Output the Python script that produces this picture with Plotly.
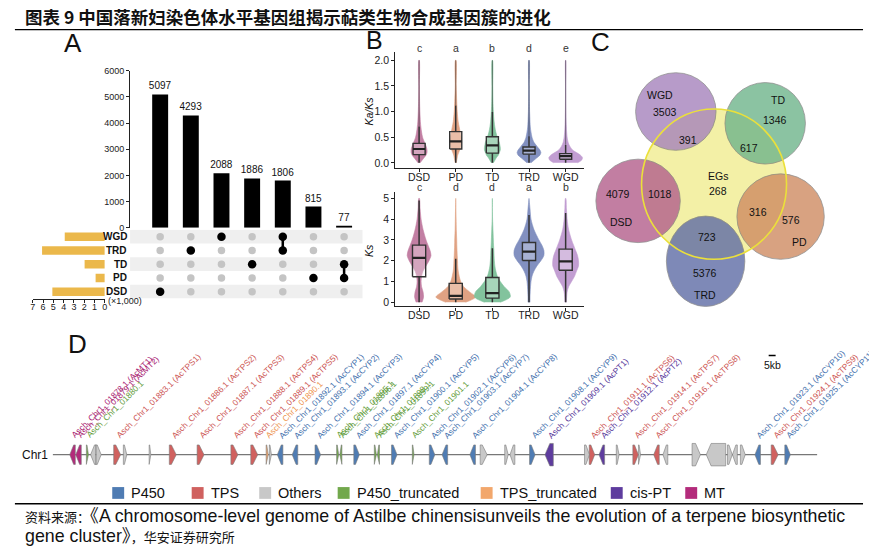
import plotly.graph_objects as go
import numpy as np

W, H = 869, 550
def fx(p): return p / W
def fy(p): return 1 - p / H

FONT = "Liberation Sans, Arial, Noto Sans CJK SC, sans-serif"
CJK = "Noto Sans CJK SC, sans-serif"

# ---------------- data ----------------
title_text = "图表 9 中国落新妇染色体水平基因组揭示萜类生物合成基因簇的进化"
source_prefix = "资料来源："
source_line1 = "《A chromosome-level genome of Astilbe chinensisunveils the evolution of a terpene biosynthetic"
source_line2a = "gene cluster》"
source_line2b = "，华安证券研究所"

# Panel A (UpSet)
upset_sets = ["WGD", "TRD", "TD", "PD", "DSD"]
upset_members = [["DSD"], ["TRD"], ["WGD"], ["TD"], ["WGD", "TRD"], ["PD"], ["TD", "PD"]]
upset_counts = [5097, 4293, 2088, 1886, 1806, 815, 77]
upset_yticks = [0, 1000, 2000, 3000, 4000, 5000, 6000]
setsize_ticks = [7, 6, 5, 4, 3, 2, 1, 0]

# Panel B
dup_types = ["DSD", "PD", "TD", "TRD", "WGD"]
dup_colors = ["#c27fa3", "#e0a283", "#82c39d", "#8290c0", "#c29ed2"]
kaks_letters = ["c", "a", "b", "d", "e"]
ks_letters = ["c", "d", "d", "a", "b"]
kaks_q1 = [0.16, 0.27, 0.19, 0.17, 0.07]
kaks_med = [0.27, 0.42, 0.34, 0.24, 0.13]
kaks_q3 = [0.38, 0.61, 0.51, 0.31, 0.18]
kaks_lo = [0.0, 0.0, 0.0, 0.0, 0.0]
kaks_hi = [0.71, 1.12, 0.99, 0.52, 0.35]
kaks_max = [2.0, 2.0, 2.0, 2.0, 2.0]
kaks_grid = [0, 0.05, 0.1, 0.15, 0.2, 0.25, 0.3, 0.35, 0.4, 0.5, 0.6, 0.7, 0.8, 1.0, 1.2, 1.5, 2.0]
kaks_density = {
    "DSD": [1, 3, 5, 7, 8, 8, 7.5, 6.5, 5.5, 3.5, 2.5, 1.8, 1.3, 0.8, 0.5, 0.3, 0.2],
    "PD":  [0.5, 1, 1.5, 2, 3, 4, 5, 5.5, 6, 5.5, 4.5, 3.5, 2.5, 1.5, 1, 0.5, 0.3],
    "TD":  [1, 2.5, 4, 6, 7, 8, 8, 7.5, 7, 5, 3.5, 2.5, 1.8, 1, 0.6, 0.4, 0.2],
    "TRD": [2, 5, 8, 11, 12, 11, 9, 7, 5, 3, 2, 1.3, 1, 0.6, 0.4, 0.3, 0.2],
    "WGD": [12, 16, 17, 15, 11, 7, 5, 3.5, 2.5, 1.5, 1, 0.7, 0.5, 0.3, 0.2, 0.15, 0.1],
}
ks_q1 = [1.23, 0.16, 0.20, 2.01, 1.54]
ks_med = [2.14, 0.31, 0.44, 2.44, 1.97]
ks_q3 = [2.75, 0.91, 1.19, 2.88, 2.56]
ks_lo = [0.0, 0.0, 0.0, 0.0, 0.0]
ks_hi = [4.9, 2.1, 2.6, 4.2, 4.3]
ks_grid = [0, 0.25, 0.5, 0.75, 1, 1.25, 1.5, 1.75, 2, 2.25, 2.5, 2.75, 3, 3.5, 4, 4.5, 5]
ks_density = {
    "DSD": [3, 4.5, 4, 2.5, 2, 2.5, 4, 7, 10, 12, 11, 9, 7, 4, 2, 1, 0.3],
    "PD":  [10, 20, 14, 8, 5, 3.5, 2.5, 2, 1.8, 1.5, 1.3, 1.1, 1, 0.6, 0.4, 0.2, 0],
    "TD":  [8, 18, 17, 12, 8, 5, 3.5, 2.5, 2, 1.7, 1.5, 1.2, 1, 0.6, 0.2, 0, 0],
    "TRD": [1, 1, 1.2, 1.5, 2, 3, 5, 8, 12, 15, 15, 13, 10, 5, 2, 1, 0],
    "WGD": [0.8, 1, 1.5, 3, 6, 9, 11, 13, 13, 12, 10, 8, 6, 3, 1.5, 0.8, 0.2],
}

# Panel C (Venn)
venn_sets = ["WGD", "TD", "PD", "TRD", "DSD"]
venn_colors = ["#a683bc", "#6fb58b", "#cf8b62", "#5f6ca6", "#b35f8c"]
venn_unique = [3503, 1346, 576, 5376, 4079]
venn_shared = [391, 617, 316, 723, 1018]
venn_core_name = "EGs"
venn_core = 268

# Panel D (gene cluster)
gene_kb = [14.3, 18.6, 25.0, 29.3, 32.9, 46.4, 52.1, 70.0, 86.4, 106.4, 130.7, 145.0, 154.3, 156.6,
           163.6, 174.3, 190.7, 205.0, 207.3, 218.6, 232.1, 234.3, 245.7, 259.3, 272.9, 282.1, 302.1,
           310.0, 326.4, 330.7, 345.0, 357.1, 384.3, 387.9, 395.0, 406.4, 419.3, 422.1, 434.3, 440.7,
           462.9, 477.1, 487.1, 490.7, 496.4, 507.1, 519.3, 528.6]
gene_len = [4, 4, 1.5, 4, 4, 5, 2.5, 1.2, 5, 5, 5, 5, 1.5, 1.5,
            4, 4, 4, 1.5, 1.5, 4, 1.5, 1.5, 4, 1.2, 4, 4, 4,
            5, 2.5, 3.5, 4, 6, 3.5, 4, 4, 2, 4, 1.5, 4, 3.5,
            6, 14, 3.5, 3.5, 3.5, 4, 5, 4]
gene_strand = [-1, -1, 1, -1, 1, 1, 1, 1, 1, 1, 1, 1, 1, 1,
               -1, -1, 1, 1, -1, 1, 1, -1, 1, 1, 1, -1, -1,
               1, 1, -1, 1, -1, 1, 1, -1, 1, 1, 1, -1, -1,
               1, -1, 1, -1, 1, -1, 1, 1]
gene_type = ["MT", "MT", "P450_truncated", "Others", "Others", "TPS", "Others", "Others", "TPS", "TPS",
             "TPS", "TPS", "TPS_truncated", "Others", "P450", "P450", "P450", "P450_truncated",
             "P450_truncated", "P450", "P450_truncated", "P450_truncated", "P450", "P450_truncated",
             "P450", "P450", "P450", "Others", "Others", "Others", "P450", "cis-PT", "Others", "TPS",
             "cis-PT", "Others", "TPS", "Others", "TPS", "Others", "Others", "Others", "Others",
             "Others", "Others", "P450", "TPS", "P450"]
gene_label = ["Asch_Chr1_01878.1 (AcMT1)", "Asch_Chr1_01879.1 (AcMT2)", "Asch_Chr1_01880.1", "", "",
              "Asch_Chr1_01883.1 (AcTPS1)", "", "", "Asch_Chr1_01886.1 (AcTPS2)",
              "Asch_Chr1_01887.1 (AcTPS3)", "Asch_Chr1_01888.1 (AcTPS4)", "Asch_Chr1_01889.1 (AcTPS5)",
              "Asch_Chr1_01890.1", "", "Asch_Chr1_01892.1 (AcCYP1)", "Asch_Chr1_01893.1 (AcCYP2)",
              "Asch_Chr1_01894.1 (AcCYP3)", "Asch_Chr1_01895.1", "Asch_Chr1_01896.1",
              "Asch_Chr1_01897.1 (AcCYP4)", "Asch_Chr1_01898.1", "Asch_Chr1_01899.1",
              "Asch_Chr1_01900.1 (AcCYP5)", "Asch_Chr1_01901.1", "Asch_Chr1_01902.1 (AcCYP6)",
              "Asch_Chr1_01903.1 (AcCYP7)", "Asch_Chr1_01904.1 (AcCYP8)", "", "", "",
              "Asch_Chr1_01908.1 (AcCYP9)", "Asch_Chr1_01909.1 (AcPT1)", "",
              "Asch_Chr1_01911.1 (AcTPS6)", "Asch_Chr1_01912.1 (AcPT2)", "",
              "Asch_Chr1_01914.1 (AcTPS7)", "", "Asch_Chr1_01916.1 (AcTPS8)", "", "", "", "", "", "",
              "Asch_Chr1_01923.1 (AcCYP10)", "Asch_Chr1_01924.1 (AcTPS9)", "Asch_Chr1_01925.1 (AcCYP11)"]
chrom_len_kb = 550
scalebar_kb = 5
legend_cats = ["P450", "TPS", "Others", "P450_truncated", "TPS_truncated", "cis-PT", "MT"]
cat_colors = {"P450": "#4f7cb3", "TPS": "#d0615f", "Others": "#c8c8c8", "P450_truncated": "#72a84c",
              "TPS_truncated": "#f2a76c", "cis-PT": "#5e3c9e", "MT": "#b32b7b"}
label_colors = {"P450": "#3f70ad", "TPS": "#cc5452", "Others": "#999999", "P450_truncated": "#5f9c38",
                "TPS_truncated": "#ee944f", "cis-PT": "#55359a", "MT": "#a8206f"}

# ---------------- figure ----------------
fig = go.Figure()
shapes = []
ann = []

def A(text, x, y, size=10, color="#111", xref="paper", yref="paper", xanchor="center", yanchor="middle",
      family=FONT, angle=0, **kw):
    ann.append(dict(text=text, x=x, y=y, xref=xref, yref=yref, xanchor=xanchor, yanchor=yanchor,
                    showarrow=False, font=dict(size=size, color=color, family=family), textangle=angle, **kw))

# ---- header / footer ----
A("<b>" + title_text + "</b>", fx(20), fy(12), size=17.5, family=CJK, xanchor="left")
shapes.append(dict(type="line", xref="paper", yref="paper", x0=fx(12), x1=fx(866), y0=fy(25), y1=fy(25),
                   line=dict(color="#000", width=1.3)))
shapes.append(dict(type="line", xref="paper", yref="paper", x0=fx(12), x1=fx(866), y0=fy(508), y1=fy(508),
                   line=dict(color="#000", width=1.3)))
A('<span style="font-size:13px">' + source_prefix + '</span>' + source_line1, fx(20), fy(520), size=17.8,
  xanchor="left")
A(source_line2a + '<span style="font-size:13px">' + source_line2b + '</span>', fx(20), fy(541), size=17.8,
  xanchor="left")

# panel letters
A("A", fx(70), fy(39), size=26)
A("B", fx(374), fy(36), size=25)
A("C", fx(602), fy(38), size=26)
A("D", fx(75), fy(345), size=26)

# ---- Panel A ----
row_of = {s: len(upset_sets) - 1 - i for i, s in enumerate(upset_sets)}
xi = list(range(len(upset_counts)))
fig.add_trace(go.Bar(x=xi, y=upset_counts, width=0.52, marker=dict(color="#000", line=dict(width=0)),
                     text=[str(c) for c in upset_counts], textposition="outside", cliponaxis=False,
                     constraintext="none",
                     textfont=dict(size=10, color="#111", family=FONT), xaxis="x", yaxis="y"))
for i, s in enumerate(upset_sets):
    if i % 2 == 0:
        r = row_of[s]
        shapes.append(dict(type="rect", xref="paper", yref="y2", x0=fx(128), x1=fx(362), y0=r - 0.5, y1=r + 0.5,
                           fillcolor="#efefef", line=dict(width=0), layer="below"))
gx, gy, bx, by = [], [], [], []
for j, mem in enumerate(upset_members):
    for s in upset_sets:
        if s in mem:
            bx.append(j); by.append(row_of[s])
        else:
            gx.append(j); gy.append(row_of[s])
fig.add_trace(go.Scatter(x=gx, y=gy, mode="markers", marker=dict(size=7.5, color="#c4c4c4"),
                         xaxis="x2", yaxis="y2"))
for j, mem in enumerate(upset_members):
    if len(mem) > 1:
        rows = [row_of[s] for s in mem]
        fig.add_trace(go.Scatter(x=[j, j], y=[min(rows), max(rows)], mode="lines",
                                 line=dict(color="#000", width=2.5), xaxis="x2", yaxis="y2"))
fig.add_trace(go.Scatter(x=bx, y=by, mode="markers", marker=dict(size=8.5, color="#000"),
                         xaxis="x2", yaxis="y2"))
set_sizes = [sum(c for m, c in zip(upset_members, upset_counts) if s in m) for s in upset_sets]
fig.add_trace(go.Bar(x=[v / 1000 for v in set_sizes], y=[row_of[s] for s in upset_sets], orientation="h",
                     width=0.62, marker=dict(color="#ebb84b", line=dict(width=0)), xaxis="x3", yaxis="y3"))
for s in upset_sets:
    A("<b>" + s + "</b>", fx(127), row_of[s], size=10, xanchor="right", yref="y2")
A("(×1,000)", fx(104), fy(301), size=9, xanchor="left", color="#222")

# ---- Panel B ----
vscale = 1 / 37.0
def violins(grid, dens, xa, ya):
    for i, cat in enumerate(dup_types):
        d = np.array(dens[cat]) * vscale
        yy = np.array(grid, dtype=float)
        xs = np.concatenate([i + d, (i - d)[::-1]])
        ys = np.concatenate([yy, yy[::-1]])
        fig.add_trace(go.Scatter(x=xs, y=ys, mode="lines", fill="toself", fillcolor=dup_colors[i],
                                 line=dict(color=dup_colors[i], width=0.6, shape="spline", smoothing=0.8),
                                 xaxis=xa, yaxis=ya))

def boxes(q1, med, q3, lo, hi, bw, xa, ya):
    wx, wy = [], []
    for i in range(len(q1)):
        wx += [i, i, None, i, i, None]
        wy += [q3[i], hi[i], None, q1[i], lo[i], None]
    fig.add_trace(go.Scatter(x=wx, y=wy, mode="lines", line=dict(color="#333", width=1.5),
                             xaxis=xa, yaxis=ya))
    bxs, bys, mx, my = [], [], [], []
    for i in range(len(q1)):
        l, r = i - bw / 2, i + bw / 2
        bxs += [l, r, r, l, l, None]
        bys += [q1[i], q1[i], q3[i], q3[i], q1[i], None]
        mx += [l, r, None]
        my += [med[i], med[i], None]
    fig.add_trace(go.Scatter(x=bxs, y=bys, mode="lines", fill="toself", fillcolor="rgba(255,255,255,0.3)",
                             line=dict(color="#333", width=1.4), xaxis=xa, yaxis=ya))
    fig.add_trace(go.Scatter(x=mx, y=my, mode="lines", line=dict(color="#222", width=2.2),
                             xaxis=xa, yaxis=ya))

violins(kaks_grid, kaks_density, "x4", "y4")
ox, oy = [], []
for i in range(len(dup_types)):
    ox += [i, i, None]; oy += [kaks_hi[i], kaks_max[i], None]
fig.add_trace(go.Scatter(x=ox, y=oy, mode="lines", line=dict(color="rgba(40,40,40,0.5)", width=1),
                         xaxis="x4", yaxis="y4"))
boxes(kaks_q1, kaks_med, kaks_q3, kaks_lo, kaks_hi, 0.33, "x4", "y4")
violins(ks_grid, ks_density, "x5", "y5")
boxes(ks_q1, ks_med, ks_q3, ks_lo, ks_hi, 0.36, "x5", "y5")
for i in range(5):
    A(kaks_letters[i], i, fy(44), size=10.5, color="#333", xref="x4")
    A(ks_letters[i], i, fy(185), size=10.5, color="#333", xref="x5")
A("<i>Ka/Ks</i>", fx(369), fy(108), size=10.5, angle=-90)
A("<i>Ks</i>", fx(369), fy(250), size=10.5, angle=-90)

# ---- Panel C ----
ell = {"WGD": (637, 69, 718, 148), "TD": (727, 79, 808, 162), "PD": (739, 172, 827, 259),
       "TRD": (668, 215, 747, 307), "DSD": (597, 157, 682, 242)}
eg_box = (643, 106, 789, 259)
shapes.append(dict(type="circle", xref="paper", yref="paper", x0=fx(eg_box[0]), x1=fx(eg_box[2]),
                   y0=fy(eg_box[3]), y1=fy(eg_box[1]), fillcolor="#f3f0a6", line=dict(width=0)))
for s, c in zip(venn_sets, venn_colors):
    b = ell[s]
    shapes.append(dict(type="circle", xref="paper", yref="paper", x0=fx(b[0]), x1=fx(b[2]), y0=fy(b[3]),
                       y1=fy(b[1]), fillcolor=c, opacity=0.8, line=dict(color="#777", width=0.8)))
shapes.append(dict(type="circle", xref="paper", yref="paper", x0=fx(eg_box[0]), x1=fx(eg_box[2]),
                   y0=fy(eg_box[3]), y1=fy(eg_box[1]), line=dict(color="#ebe03a", width=1.6)))
name_pos = {"WGD": (662, 92), "TD": (780, 97), "PD": (802, 241), "TRD": (707, 295), "DSD": (623, 221)}
uniq_pos = {"WGD": (667, 109), "TD": (777, 117), "PD": (793, 219), "TRD": (707, 273), "DSD": (619, 193)}
shared_pos = {"WGD": (690, 137), "TD": (751, 146), "PD": (760, 211), "TRD": (709, 236), "DSD": (662, 193)}
for s, u, sh in zip(venn_sets, venn_unique, venn_shared):
    A(s, fx(name_pos[s][0]), fy(name_pos[s][1]), size=10.5)
    A(str(u), fx(uniq_pos[s][0]), fy(uniq_pos[s][1]), size=10.5)
    A(str(sh), fx(shared_pos[s][0]), fy(shared_pos[s][1]), size=10.5)
A(venn_core_name, fx(720), fy(174), size=10.5)
A(str(venn_core), fx(720), fy(189), size=10.5)

# ---- Panel D ----
fig.add_trace(go.Scatter(x=[0, chrom_len_kb], y=[0, 0], mode="lines", line=dict(color="#777", width=1.2),
                         xaxis="x6", yaxis="y6"))
A("Chr1", fx(47), fy(458), size=12, xanchor="right")
def glyph(x, L, strand, h):
    tip = min(0.7 * L, 3.5)
    x0, x1 = x - L / 2, x + L / 2
    if strand > 0:
        return [x0, x1 - tip, x1, x1 - tip, x0, x0], [h, h, 0, -h, -h, h]
    return [x1, x0 + tip, x0, x0 + tip, x1, x1], [h, h, 0, -h, -h, h]
for cat in legend_cats:
    xs, ys = [], []
    for x, L, st, t in zip(gene_kb, gene_len, gene_strand, gene_type):
        if t == cat:
            gx_, gy_ = glyph(x, L, st, 0.52 if L >= 6 else 0.45)
            xs += gx_ + [None]; ys += gy_ + [None]
    if xs:
        fig.add_trace(go.Scatter(x=xs, y=ys, mode="lines", fill="toself", fillcolor=cat_colors[cat],
                                 line=dict(color="#7a7a7a", width=0.6), xaxis="x6", yaxis="y6"))
for x, t, lab in zip(gene_kb, gene_type, gene_label):
    if lab:
        A(lab, x, fy(446), size=8.4, color=label_colors[t], xref="x6", xanchor="left", yanchor="bottom",
          angle=-45, xshift=-6)
shapes.append(dict(type="line", xref="x6", yref="paper", x0=515, x1=515 + scalebar_kb, y0=fy(357), y1=fy(357),
                   line=dict(color="#000", width=1.5)))
A("5kb", 517.5, fy(367), size=10.5, xref="x6")

leg_x = [110, 190, 258, 337, 481, 612, 687]
for cat, lx in zip(legend_cats, leg_x):
    shapes.append(dict(type="rect", xref="paper", yref="paper", x0=fx(lx), x1=fx(lx + 12), y0=fy(503),
                       y1=fy(491), fillcolor=cat_colors[cat], line=dict(width=0)))
    A(cat, fx(lx + 17), fy(497), size=14.5, xanchor="left")

# ---------------- axes ----------------
hid = dict(visible=False, showgrid=False, zeroline=False)
axline = dict(showline=True, linecolor="#222", linewidth=1.3, ticks="outside", ticklen=3, tickcolor="#222",
              showgrid=False, zeroline=False)
fig.update_layout(
    width=W, height=H, margin=dict(l=0, r=0, t=0, b=0), showlegend=False,
    plot_bgcolor="white", paper_bgcolor="white", font=dict(family=FONT, color="#111"),
    xaxis=dict(domain=[fx(128), fx(362)], range=[-0.98, 6.6], anchor="y", **hid),
    yaxis=dict(domain=[fy(227), fy(67)], range=[0, 6000], anchor="x", tickvals=upset_yticks,
               tickfont=dict(size=9, color="#222"), **axline),
    xaxis2=dict(domain=[fx(128), fx(362)], range=[-0.98, 6.6], anchor="y2", **hid),
    yaxis2=dict(domain=[fy(299), fy(229)], range=[-0.5, 4.5], anchor="x2", **hid),
    xaxis3=dict(domain=[fx(30), fx(102.5)], range=[7, 0], anchor="y3", tickvals=setsize_ticks,
                ticklabelstandoff=-3, tickfont=dict(size=9, color="#222"), **{**axline, "linewidth": 1}),
    yaxis3=dict(domain=[fy(299), fy(229)], range=[-0.5, 4.5], anchor="x3", **hid),
    xaxis4=dict(domain=[fx(395), fx(585)], range=[-0.65, 4.5], anchor="y4", tickvals=list(range(5)),
                ticktext=dup_types, ticklabelstandoff=-4, tickfont=dict(size=10.5, color="#222"), **axline),
    yaxis4=dict(domain=[fy(166), fy(48)], range=[-0.1, 2.16], anchor="x4", tickvals=[0, 0.5, 1, 1.5, 2],
                tickformat=".1f", tickfont=dict(size=10.5, color="#222"), **axline),
    xaxis5=dict(domain=[fx(395), fx(585)], range=[-0.65, 4.5], anchor="y5", tickvals=list(range(5)),
                ticktext=dup_types, ticklabelstandoff=-4, tickfont=dict(size=10.5, color="#222"), **axline),
    yaxis5=dict(domain=[fy(307), fy(190)], range=[-0.2, 5.33], anchor="x5", tickvals=[0, 1, 2, 3, 4, 5],
                tickfont=dict(size=10.5, color="#222"), **axline),
    xaxis6=dict(domain=[fx(50), fx(820)], range=[0, chrom_len_kb], anchor="y6", **hid),
    yaxis6=dict(domain=[fy(480), fy(436)], range=[-1, 1], anchor="x6", **hid),
    shapes=shapes, annotations=ann,
)

fig.write_html("out.html", config={"displayModeBar": False},
               post_script="document.body.style.margin='0';")
